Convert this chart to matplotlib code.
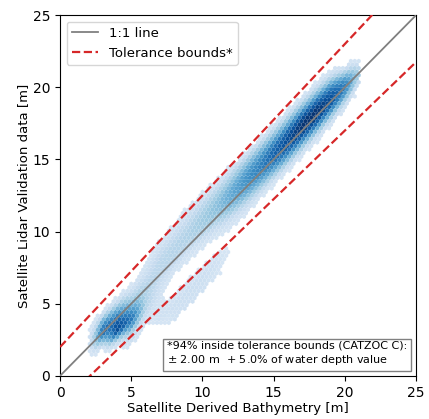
import numpy as np
import matplotlib
matplotlib.use("Agg")
import matplotlib.pyplot as plt

# density: along-track stations (SDB depth, m),
# cross-track offsets (lidar - SDB, m), relative point density 0..1
sdb_station = [2, 3, 4, 5, 6, 7, 8, 9, 10, 11, 12, 13, 14, 15, 16, 17, 18, 19, 20, 21]
offset_col = [-4, -3, -2, -1.5, -1, -0.5, 0, 0.5, 1, 1.5, 2, 2.5, 3]
density = [
    [0, 0, 0, 0, 0, 0, 0, 0, 0, 0, 0, 0, 0],
    [0, 0, 0, 0, 0.05, 0.40, 0.75, 0.60, 0.30, 0, 0, 0, 0],
    [0, 0, 0, 0.25, 0.85, 0.85, 0.70, 0.45, 0.20, 0, 0, 0, 0],
    [0, 0, 0.25, 0.55, 0.70, 0.55, 0.35, 0.20, 0.10, 0, 0, 0, 0],
    [0, 0, 0.10, 0.18, 0.22, 0.22, 0.22, 0.18, 0.12, 0.08, 0, 0, 0],
    [0, 0.10, 0.08, 0.08, 0.10, 0.13, 0.18, 0.18, 0.18, 0.14, 0.09, 0, 0],
    [0.09, 0.11, 0, 0, 0.05, 0.10, 0.18, 0.20, 0.20, 0.16, 0.11, 0.05, 0],
    [0.10, 0.12, 0, 0, 0.05, 0.10, 0.18, 0.22, 0.22, 0.18, 0.13, 0.08, 0],
    [0.10, 0.12, 0, 0, 0.07, 0.13, 0.22, 0.27, 0.27, 0.22, 0.16, 0.08, 0],
    [0.07, 0.10, 0, 0.05, 0.10, 0.18, 0.28, 0.33, 0.33, 0.26, 0.16, 0.06, 0],
    [0, 0.05, 0, 0.08, 0.15, 0.30, 0.40, 0.45, 0.42, 0.30, 0.18, 0.05, 0],
    [0, 0, 0, 0.10, 0.20, 0.38, 0.50, 0.55, 0.50, 0.35, 0.20, 0, 0],
    [0, 0, 0, 0.10, 0.25, 0.45, 0.60, 0.62, 0.55, 0.38, 0.20, 0, 0],
    [0, 0, 0, 0.10, 0.30, 0.55, 0.72, 0.74, 0.64, 0.40, 0.20, 0, 0],
    [0, 0, 0, 0.12, 0.35, 0.65, 0.82, 0.84, 0.72, 0.42, 0.20, 0, 0],
    [0, 0, 0, 0.12, 0.35, 0.70, 0.92, 0.94, 0.78, 0.42, 0.18, 0, 0],
    [0, 0, 0, 0.10, 0.35, 0.72, 0.94, 0.92, 0.72, 0.38, 0.15, 0, 0],
    [0, 0, 0, 0.08, 0.30, 0.62, 0.85, 0.80, 0.60, 0.28, 0.08, 0, 0],
    [0, 0, 0, 0, 0.20, 0.50, 0.65, 0.55, 0.25, 0, 0, 0, 0],
    [0, 0, 0, 0, 0, 0.15, 0.25, 0.12, 0, 0, 0, 0, 0],
]

tol_const = 2.0   # m
tol_pct = 5.0     # % of depth
pct_inside = 94

# resample the density table on a fine grid (bilinear)
dens = np.array(density)
xs = np.arange(1.5, 21.6, 0.06)
os_ = np.arange(-4.5, 3.6, 0.06)
tmp = np.array([np.interp(os_, offset_col, row, left=0, right=0) for row in dens])
grid = np.array([np.interp(xs, sdb_station, tmp[:, j], left=0, right=0) for j in range(len(os_))])
X, O = np.meshgrid(xs, os_)
keep = grid > 0.06
sdb = X[keep]
lidar = X[keep] + O[keep]
w = grid[keep]

fig, ax = plt.subplots(figsize=(4.29, 4.19), dpi=100)
fig.subplots_adjust(left=0.14, right=0.97, bottom=0.103, top=0.964)

ax.hexbin(sdb, lidar, C=w, gridsize=90, extent=(0, 25, 0, 25),
          reduce_C_function=np.mean, cmap='Blues', vmin=-0.12, vmax=0.95,
          linewidths=0, edgecolors='face', zorder=1)

d = np.array([0, 25])
ax.plot(d, d, color='grey', lw=1.3, label='1:1 line', zorder=3)
ax.plot(d, d * (1 + tol_pct / 100) + tol_const, color='#d62728', ls='--', lw=1.6,
        label='Tolerance bounds*', zorder=3)
ax.plot(d, d * (1 - tol_pct / 100) - tol_const, color='#d62728', ls='--', lw=1.6, zorder=3)

ax.set_xlim(0, 25)
ax.set_ylim(0, 25)
ax.set_xticks(range(0, 26, 5))
ax.set_yticks(range(0, 26, 5))
ax.tick_params(labelsize=10)
ax.set_xlabel("Satellite Derived Bathymetry [m]", fontsize=9.5, labelpad=2)
ax.set_ylabel("Satellite Lidar Validation data [m]", fontsize=9.5, labelpad=2)
ax.legend(loc='upper left', fontsize=9.5, fancybox=True, framealpha=0.8)

ax.text(0.975, 0.025,
        f"*{pct_inside}% inside tolerance bounds (CATZOC C):\n"
        f"$\\pm$ {tol_const:.2f} m  + {tol_pct:.1f}% of water depth value",
        transform=ax.transAxes, ha='right', va='bottom', ma='left', fontsize=8,
        bbox=dict(boxstyle='square,pad=0.35', fc='white', ec='grey'), zorder=4)

plt.savefig("out.png", dpi=100)
